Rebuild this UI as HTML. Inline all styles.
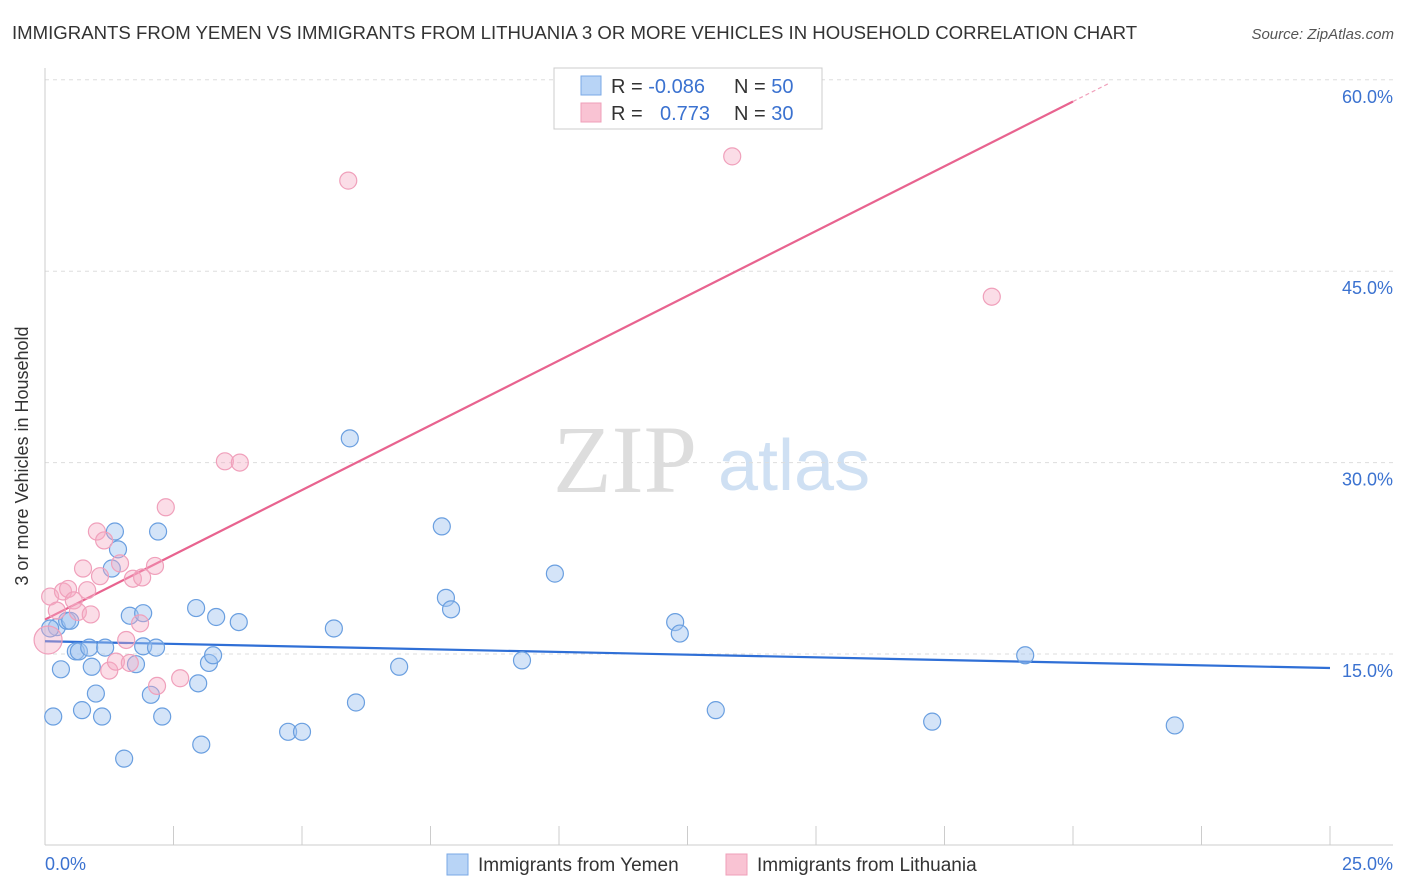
<!DOCTYPE html>
<html><head><meta charset="utf-8"><style>
body{margin:0;background:#fff;font-family:"Liberation Sans",sans-serif;}
svg{display:block}
</style></head><body>
<svg id="c" width="1406" height="892">
<text x="12" y="39" font-size="18.6" fill="#333">IMMIGRANTS FROM YEMEN VS IMMIGRANTS FROM LITHUANIA 3 OR MORE VEHICLES IN HOUSEHOLD CORRELATION CHART</text>
<text x="1394" y="39" font-size="15" fill="#555" font-style="italic" text-anchor="end">Source: ZipAtlas.com</text>
<text x="28" y="456" font-size="18" fill="#333" text-anchor="middle" transform="rotate(-90 28 456)">3 or more Vehicles in Household</text>
<g>
<text x="553" y="492" font-size="96" font-family="Liberation Serif,serif" fill="#ddd">ZIP</text>
<text x="718" y="490" font-size="72" fill="#cfe0f3">atlas</text>
</g>
<g id="grid"></g><g id="axes"></g><g id="lines"></g><g id="pts"></g>
<g>
<rect x="554" y="68" width="268" height="61" fill="#fff" stroke="#ccc"/>
<rect x="581" y="76" width="20" height="19" fill="#b8d4f6" stroke="#7aa8e6"/>
<rect x="581" y="103" width="20" height="19" fill="#f9c3d3" stroke="#ef9fb8"/>
<text x="611" y="93" font-size="20" fill="#333">R = <tspan fill="#3b72d0">-0.086</tspan><tspan x="734">N = </tspan><tspan fill="#3b72d0">50</tspan></text>
<text x="611" y="120" font-size="20" fill="#333">R = <tspan x="660" fill="#3b72d0">0.773</tspan><tspan x="734">N = </tspan><tspan fill="#3b72d0">30</tspan></text>
</g>
<g>
<rect x="447" y="854" width="21" height="21" fill="#b8d4f6" stroke="#7aa8e6"/>
<text x="478" y="871" font-size="19" fill="#333">Immigrants from Yemen</text>
<rect x="726" y="854" width="21" height="21" fill="#f9c3d3" stroke="#ef9fb8"/>
<text x="757" y="871" font-size="19" fill="#333">Immigrants from Lithuania</text>
</g>
</svg>
<script>
const yTicks=[15,30,45,60];
const yTickLabels=["15.0%","30.0%","45.0%","60.0%"];
const xTickLabels=["0.0%","25.0%"];
const blueX=[0.16,0.23,0.31,0.43,0.49,0.60,0.66,0.72,0.86,0.91,0.99,1.11,1.17,1.30,1.36,1.42,1.54,1.65,1.77,1.91,1.91,2.06,2.16,2.20,2.28,2.94,2.98,3.04,3.19,3.27,3.33,3.77,4.73,5.00,5.62,5.93,6.05,6.89,7.72,7.80,7.90,9.28,9.92,12.26,12.35,13.05,17.26,19.07,21.98,0.10];
const blueY=[10.1,17.1,13.8,17.6,17.6,15.2,15.2,10.6,15.5,14.0,11.9,10.1,15.5,21.7,24.6,23.2,6.8,18.0,14.2,18.2,15.6,11.8,15.5,24.6,10.1,18.6,12.7,7.9,14.3,14.9,17.9,17.5,8.9,8.9,17.0,31.9,11.2,14.0,25.0,19.4,18.5,14.5,21.3,17.5,16.6,10.6,9.7,14.9,9.4,17.0];
const pinkX=[0.06,0.10,0.23,0.35,0.45,0.56,0.64,0.74,0.82,0.89,1.01,1.07,1.15,1.25,1.38,1.46,1.58,1.65,1.71,1.85,1.89,2.14,2.18,2.35,2.63,3.50,3.79,5.90,13.37,18.42];
const pinkY=[16.1,19.5,18.4,19.9,20.1,19.2,18.3,21.7,20.0,18.1,24.6,21.1,23.9,13.7,14.4,22.1,16.1,14.3,20.9,17.4,21.0,21.9,12.5,26.5,13.1,30.1,30.0,52.1,54.0,43.0];
const blueTrend=[16.0,13.9];
const pinkTrend=[17.7,2.03];
const NS="http://www.w3.org/2000/svg";
const X=v=>45+v*51.4;
const Y=v=>654-(v-15)*12.76;
function mk(p,t,a){const e=document.createElementNS(NS,t);for(const k in a)e.setAttribute(k,a[k]);document.getElementById(p).appendChild(e);return e;}
yTicks.forEach((t,i)=>{
 let l=mk('grid','line',{x1:45,x2:1393,y1:Y(t),y2:Y(t),stroke:'#ddd','stroke-dasharray':'4,4'});
 
 
 let tx=mk('grid','text',{x:1393,y:Y(t)+23,'font-size':18,fill:'#3b72d0','text-anchor':'end'});
 tx.textContent=yTickLabels[i];
 
 
});
let ya=mk('axes','line',{x1:45,x2:45,y1:68,y2:845,stroke:'#ccc'});


let xa=mk('axes','line',{x1:45,x2:1393,y1:845,y2:845,stroke:'#ccc'});


for(let i=1;i<=10;i++){
 let t=mk('axes','line',{x1:X(i*2.5),x2:X(i*2.5),y1:826,y2:845,stroke:'#ccc'});
 
 
}
let x0=mk('axes','text',{x:45,y:870,'font-size':18,fill:'#3b72d0'});x0.textContent=xTickLabels[0];


let x1=mk('axes','text',{x:1393,y:870,'font-size':18,fill:'#3b72d0','text-anchor':'end'});x1.textContent=xTickLabels[1];


blueX.forEach((v,i)=>{
 let c=mk('pts','circle',{cx:X(v),cy:Y(blueY[i]),r:8.5,fill:'rgba(160,196,240,0.45)',stroke:'#6a9fe0','stroke-width':1.2});
 
 
});
pinkX.forEach((v,i)=>{
 let c=mk('pts','circle',{cx:X(v),cy:Y(pinkY[i]),r:i==0?14:8.5,fill:'rgba(245,170,195,0.4)',stroke:'#f0a0bb','stroke-width':1.2});
 
 
});
let bl=mk('lines','line',{x1:X(0),y1:Y(blueTrend[0]),x2:X(25),y2:Y(blueTrend[1]),stroke:'#2f6fd6','stroke-width':2.2});


let pl=mk('lines','line',{x1:X(0),y1:Y(pinkTrend[0]),x2:X(20),y2:Y(pinkTrend[0]+pinkTrend[1]*20),stroke:'#e8638f','stroke-width':2.2});


let pd=mk('lines','line',{x1:X(20),y1:Y(pinkTrend[0]+pinkTrend[1]*20),x2:X(20.7),y2:Y(pinkTrend[0]+pinkTrend[1]*20.7),stroke:'#f0a0bb','stroke-width':1.2,'stroke-dasharray':'4,3'});


</script>
</body></html>
